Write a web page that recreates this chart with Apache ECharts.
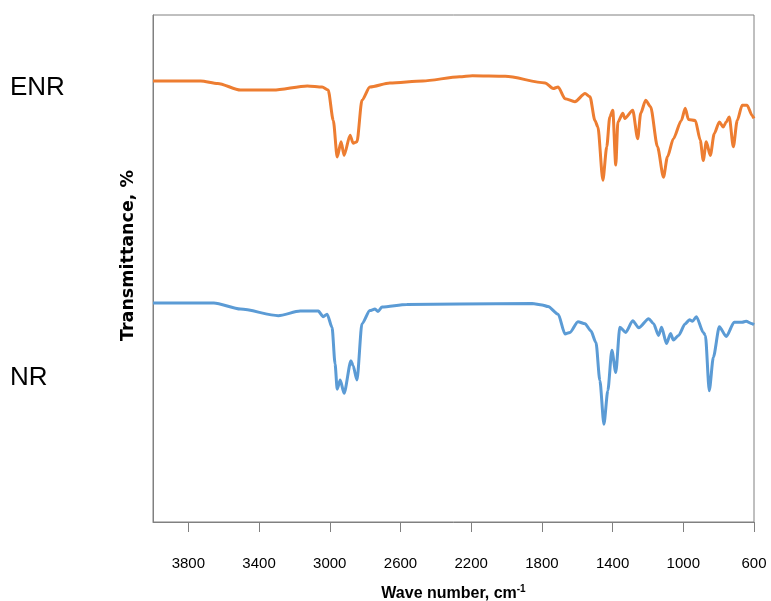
<!DOCTYPE html>
<html>
<head>
<meta charset="utf-8">
<script src="https://cdn.jsdelivr.net/npm/echarts@6/dist/echarts.min.js"></script>
<style>html,body{margin:0;padding:0;background:#fff;}#chart{width:771px;height:601px;}</style>
</head>
<body>
<div id="chart"></div>
<script>
// Wave numbers (cm^-1) and transmittance (arbitrary offset %)
const enrWave = [4000,3730,3634,3505,3319,3127,3043,3009,2980,2958,2936,2919,2885,2868,2846,2818,2773,2660,2474,2266,2193,2007,1782,1736,1708,1669,1613,1556,1528,1500,1483,1455,1433,1416,1399,1382,1370,1342,1331,1286,1258,1241,1213,1185,1146,1112,1090,1056,1011,989,971,932,904,887,870,847,825,796,774,757,740,717,695,667,639,611,600];
const enrT    = [87.0,87.0,86.5,85.2,85.2,86.0,85.8,85.2,79.2,72.0,75.0,72.3,76.3,74.7,75.0,83.2,85.8,86.6,87.0,87.8,88.0,87.9,86.6,85.5,85.8,83.5,82.9,84.5,83.9,79.2,77.9,67.4,74.0,79.9,81.2,70.4,78.9,80.6,79.6,81.2,75.6,80.6,83.2,81.9,74.0,68.0,72.0,75.6,79.2,81.6,79.4,79.2,75.3,71.3,75.0,72.3,76.6,78.9,77.9,78.9,79.9,74.0,79.2,82.2,82.2,80.2,79.6];

const nrWave = [4000,3656,3505,3291,3167,3065,3037,3015,2987,2970,2958,2941,2919,2880,2868,2846,2818,2773,2744,2727,2705,2564,2266,1855,1799,1765,1708,1669,1641,1596,1556,1523,1494,1472,1449,1427,1404,1382,1359,1326,1286,1252,1196,1168,1140,1123,1095,1072,1056,1027,989,965,948,926,887,875,853,830,796,757,712,667,645,611,600];
const nrT    = [43.2,43.2,42.0,40.7,41.6,41.6,40.5,41.0,38.4,31.2,26.2,28.0,25.4,31.8,30.8,28.0,39.1,41.7,42.0,41.5,42.4,42.9,43.0,43.1,42.8,42.5,41.0,37.1,37.4,39.5,39.1,37.7,35.4,27.9,19.3,25.9,33.9,29.5,38.4,37.4,39.7,38.3,40.1,39.1,36.8,38.4,35.2,37.2,35.9,36.8,39.1,39.9,39.6,40.5,37.4,36.8,25.9,32.5,38.5,36.6,39.4,39.4,39.6,39.1,38.9];

const xTicks = [3800,3400,3000,2600,2200,1800,1400,1000,600];
const seriesNames = ['ENR','NR'];

const pairs = (xs, ys) => xs.map((x, i) => [x, ys[i]]);

const chart = echarts.init(document.getElementById('chart'), null, {renderer: 'canvas'});
chart.setOption({
  animation: false,
  backgroundColor: '#ffffff',
  grid: {left: 153, right: 17, top: 15, bottom: 79, show: true, borderColor: '#808080', borderWidth: 1,
         containLabel: false, outerBoundsMode: 'none'},
  xAxis: {
    type: 'value', inverse: true, min: 600, max: 4000, interval: 400,
    name: '{a|Wave number, cm}{s|-1}',
    nameLocation: 'middle', nameGap: 62,
    nameTextStyle: {
      rich: {
        a: {fontFamily: 'Liberation Sans, Arial', fontSize: 16, fontWeight: 'bold', color: '#000', lineHeight: 20},
        s: {fontFamily: 'Liberation Sans, Arial', fontSize: 10, fontWeight: 'bold', color: '#000', verticalAlign: 'top', lineHeight: 20, padding: [0, 0, 8, 0]}
      }
    },
    axisLine: {show: true, lineStyle: {color: '#808080', width: 1}},
    axisTick: {show: true, inside: false, length: 10, customValues: xTicks, lineStyle: {color: '#808080'}},
    axisLabel: {
      margin: 34, fontFamily: 'Liberation Sans, Arial', fontSize: 15, color: '#000',
      customValues: xTicks,
      formatter: v => String(v)
    },
    splitLine: {show: false}
  },
  yAxis: {
    type: 'value', min: 0, max: 100,
    axisLine: {show: true, lineStyle: {color: '#808080'}},
    axisTick: {show: false}, axisLabel: {show: false}, splitLine: {show: false}
  },
  series: [
    {name: seriesNames[0], type: 'line', data: pairs(enrWave, enrT), showSymbol: false, smooth: 0.25, smoothMonotone: 'x',
     lineStyle: {color: '#ED7D31', width: 3}, itemStyle: {color: '#ED7D31'}},
    {name: seriesNames[1], type: 'line', data: pairs(nrWave, nrT), showSymbol: false, smooth: 0.25, smoothMonotone: 'x',
     lineStyle: {color: '#5B9BD5', width: 3}, itemStyle: {color: '#5B9BD5'}}
  ],
  graphic: [
    {type: 'text', left: 10, top: 75, style: {text: seriesNames[0], fontFamily: 'Liberation Sans, Arial', fontSize: 26, fill: '#000'}},
    {type: 'text', left: 10, top: 365, style: {text: seriesNames[1], fontFamily: 'Liberation Sans, Arial', fontSize: 26, fill: '#000'}},
    {type: 'text', x: 128.5, y: 255.5, rotation: Math.PI / 2,
     style: {text: 'Transmittance, %', fontFamily: 'DejaVu Sans', fontWeight: 'bold', fontSize: 17.5, fill: '#000', align: 'center', verticalAlign: 'middle'}}
  ]
});
</script>
</body>
</html>
